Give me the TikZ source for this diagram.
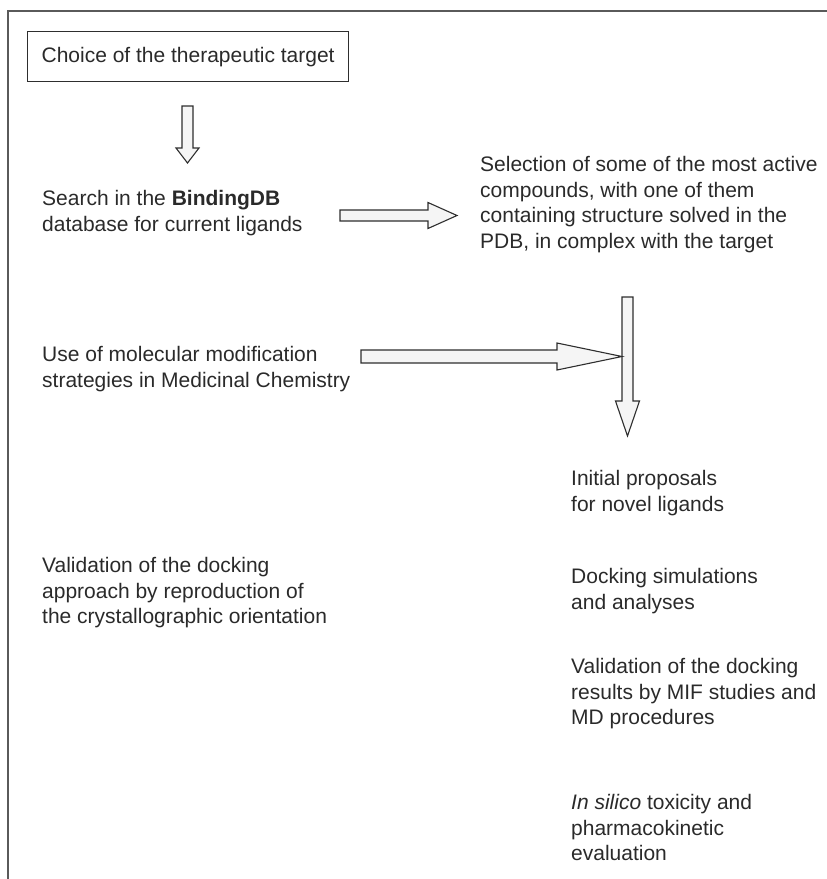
\documentclass[tikz,border=0pt]{standalone}
\usepackage{fontspec}
\setmainfont{Liberation Sans}
\usepackage{tikz}
\usetikzlibrary{calc}
\usetikzlibrary{positioning}

\definecolor{textgray}{HTML}{2A2A2A}
\definecolor{arrowline}{HTML}{2E2E2E}
\definecolor{arrowfill}{HTML}{F5F5F5}
\definecolor{framegray}{HTML}{5A5A5A}

\tikzset{
  stagetext/.style={font=\fontsize{21}{25.7}\selectfont, text=textgray, align=left, inner sep=0pt, anchor=north west},
  blockarrow/.style={draw=arrowline, fill=arrowfill, line width=1.1pt, line join=miter},
  fatright/.style n args={3}{blockarrow, to path={
    ($(\tikztostart)+(0,-#1)$) -- ($(\tikztotarget)+(-#3,-#1)$) -- ($(\tikztotarget)+(-#3,-#2)$)
    -- (\tikztotarget) -- ($(\tikztotarget)+(-#3,#2)$) -- ($(\tikztotarget)+(-#3,#1)$)
    -- ($(\tikztostart)+(0,#1)$) -- cycle}},
  fatdown/.style n args={3}{blockarrow, to path={
    ($(\tikztostart)+(-#1,0)$) -- ($(\tikztotarget)+(-#1,-#3)$) -- ($(\tikztotarget)+(-#2,-#3)$)
    -- (\tikztotarget) -- ($(\tikztotarget)+(#2,-#3)$) -- ($(\tikztotarget)+(#1,-#3)$)
    -- ($(\tikztostart)+(#1,0)$) -- cycle}}
}

\begin{document}
\begin{tikzpicture}[x=1pt, y=-1pt]
\useasboundingbox (0,0) rectangle (827,879);
\draw [framegray, line width=1.5pt] (827,11) -| (8,879);

\node [draw=arrowline, line width=1.2pt, minimum width=321pt, minimum height=50pt, anchor=north west,
  font=\fontsize{21}{25.7}\selectfont, text=textgray, inner sep=0pt] (target) at (27,31) {Choice of the therapeutic target};
\node [stagetext] (search) at (42,190) {Search in the \textbf{BindingDB}\\database for current ligands};
\node [stagetext] (selection) at (480,156) {Selection of some of the most active\\compounds, with one of them\\containing structure solved in the\\PDB, in complex with the target};
\node [stagetext] (modification) at (42,346) {Use of molecular modification\\strategies in Medicinal Chemistry};
\node [stagetext] (proposals) at (571,470) {Initial proposals\\for novel ligands};
\node [stagetext] (validref) at (42,557) {Validation of the docking\\approach by reproduction of\\the crystallographic orientation};
\node [stagetext] (docking) at (571,568) {Docking simulations\\and analyses};
\node [stagetext] (validmd) at (571,658) {Validation of the docking\\results by MIF studies and\\MD procedures};
\node [stagetext] (admet) at (571,794) {\textit{In silico} toxicity and\\pharmacokinetic\\evaluation};

\coordinate (a1s) at (187.5,106);
\coordinate (a1e) at (187.5,163);
\coordinate (a2s) at (340,215.5);
\coordinate (a2e) at (457,215.5);
\coordinate (a3s) at (627.5,297);
\coordinate (a3e) at (627.5,436);
\coordinate (a4s) at (361,356.5);
\coordinate (a4e) at (622,356.5);

\draw [fatdown={5.5}{11.5}{15}] (a1s) to (a1e);
\draw [fatright={5.5}{13}{29}] (a2s) to (a2e);
\draw [fatdown={5.5}{12}{35}] (a3s) to (a3e);
\draw [fatright={6.5}{13.5}{65}] (a4s) to (a4e);
\end{tikzpicture}
\end{document}
